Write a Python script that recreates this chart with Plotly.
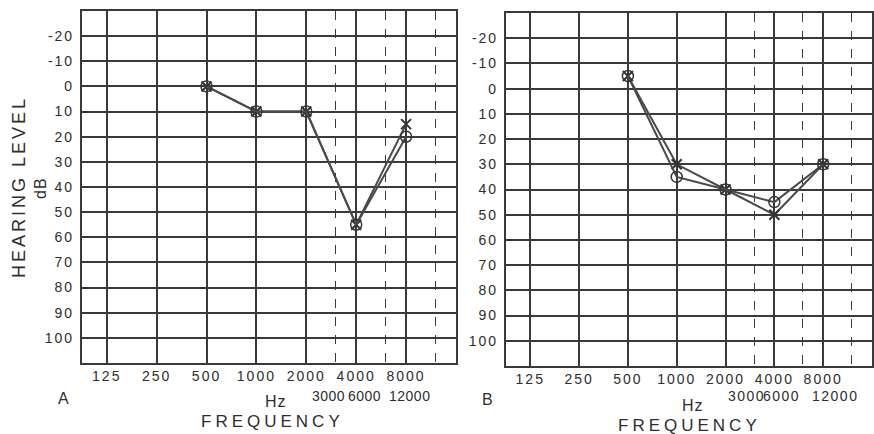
import math
import plotly.graph_objects as go

# ---- data ----
freqs = [500, 1000, 2000, 4000, 8000]
a_right_O = [0, 10, 10, 55, 20]
a_left_X = [0, 10, 10, 55, 15]
b_right_O = [-5, 35, 40, 45, 30]
b_left_X = [-5, 30, 40, 50, 30]

x_tickvals = [125, 250, 500, 1000, 2000, 4000, 8000]
x_ticktext = ["125", "250", "500", "1000", "2000", "4000", "8000"]
x_minorvals = [3000, 6000, 12000]
x_minortext = ["3000", "6000", "12000"]
y_tickvals = [-20, -10, 0, 10, 20, 30, 40, 50, 60, 70, 80, 90, 100]

W, H = 874, 434
INK = "#2e2e2e"
LINE = "#3a3a3a"
FONT = "Liberation Sans"


def sp(t, ls=2):
    return f'<span style="letter-spacing:{ls}px">{t}</span>'


fig = go.Figure()

for (xa, ya, o_vals, x_vals) in [("x", "y", a_right_O, a_left_X), ("x2", "y2", b_right_O, b_left_X)]:
    fig.add_trace(go.Scatter(x=freqs, y=x_vals, xaxis=xa, yaxis=ya, mode="lines+markers",
                             line=dict(color="#4a4a4a", width=2),
                             marker=dict(symbol="x-thin-open", size=10, color="#333",
                                         line=dict(width=2, color="#333")),
                             showlegend=False))
    fig.add_trace(go.Scatter(x=freqs, y=o_vals, xaxis=xa, yaxis=ya, mode="lines+markers",
                             line=dict(color="#4a4a4a", width=2),
                             marker=dict(symbol="circle-open", size=11, color="#333",
                                         line=dict(width=1.5, color="#333")),
                             showlegend=False))

xr = [math.log10(125 / math.sqrt(2)), math.log10(16000)]


def xaxis(domain, anchor):
    return dict(type="log", range=xr, domain=domain, anchor=anchor,
                tickmode="array", tickvals=x_tickvals, ticktext=[sp(t, 2) for t in x_ticktext],
                ticks="", ticklabelstandoff=-1,
                tickfont=dict(family=FONT, size=14, color=INK),
                showgrid=True, gridcolor=LINE, gridwidth=1.6,
                minor=dict(tickmode="array", tickvals=x_minorvals, showgrid=True,
                           griddash="dash", gridcolor=LINE, gridwidth=1.4, ticks=""),
                showline=True, mirror=True, linecolor=LINE, linewidth=1.8,
                zeroline=False, fixedrange=True)


def yaxis(domain, anchor):
    return dict(range=[110, -30], domain=domain, anchor=anchor,
                tickmode="array", tickvals=y_tickvals,
                ticktext=[sp(str(v), 2) for v in y_tickvals],
                ticks="", ticklabelstandoff=3,
                tickfont=dict(family=FONT, size=14, color=INK),
                showgrid=True, gridcolor=LINE, gridwidth=1.6,
                showline=True, mirror=True, linecolor=LINE, linewidth=1.8,
                zeroline=False, fixedrange=True)


fig.update_layout(
    width=W, height=H, margin=dict(l=0, r=0, t=0, b=0),
    paper_bgcolor="white", plot_bgcolor="white",
    xaxis=xaxis([82 / W, 457 / W], "y"),
    yaxis=yaxis([1 - 363 / H, 1 - 11 / H], "x"),
    xaxis2=xaxis([507 / W, 1.0], "y2"),
    yaxis2=yaxis([1 - 366 / H, 1 - 13 / H], "x2"),
)

ann = []
# second row of frequency labels (pixel centres)
second_row = [("x", [329, 365, 410], 0.5), ("x2", [748, 783, 837], 1.5)]
for xa, centres, ls in second_row:
    for v, t, cx in zip(x_minorvals, x_minortext, centres):
        ann.append(dict(x=cx / W, xref="paper", y=1 - 396 / H, yref="paper",
                        text=sp(t, ls), showarrow=False,
                        xanchor="center", yanchor="middle",
                        font=dict(family=FONT, size=14, color=INK)))


def pa(x, y, t, size, angle=0, ls=2):
    ann.append(dict(x=x / W, y=1 - y / H, xref="paper", yref="paper", text=sp(t, ls),
                    showarrow=False, xanchor="center", yanchor="middle", textangle=angle,
                    font=dict(family=FONT, size=size, color=INK)))


pa(19, 187, "HEARING LEVEL", 18, -90, 3)
pa(40, 188, "dB", 16, -90, 1)
pa(64, 398, "A", 16, 0, 0)
pa(277, 401, "Hz", 16, 0, 1)
pa(273, 421, "FREQUENCY", 17, 0, 4)
pa(489, 399, "B", 16, 0, 0)
pa(695, 405, "Hz", 16, 0, 1)
pa(691, 425, "FREQUENCY", 17, 0, 4)

fig.update_layout(annotations=ann)
fig.write_html("out.html", config={"displayModeBar": False},
               post_script="document.body.style.margin='0px';document.body.style.overflow='hidden';")
